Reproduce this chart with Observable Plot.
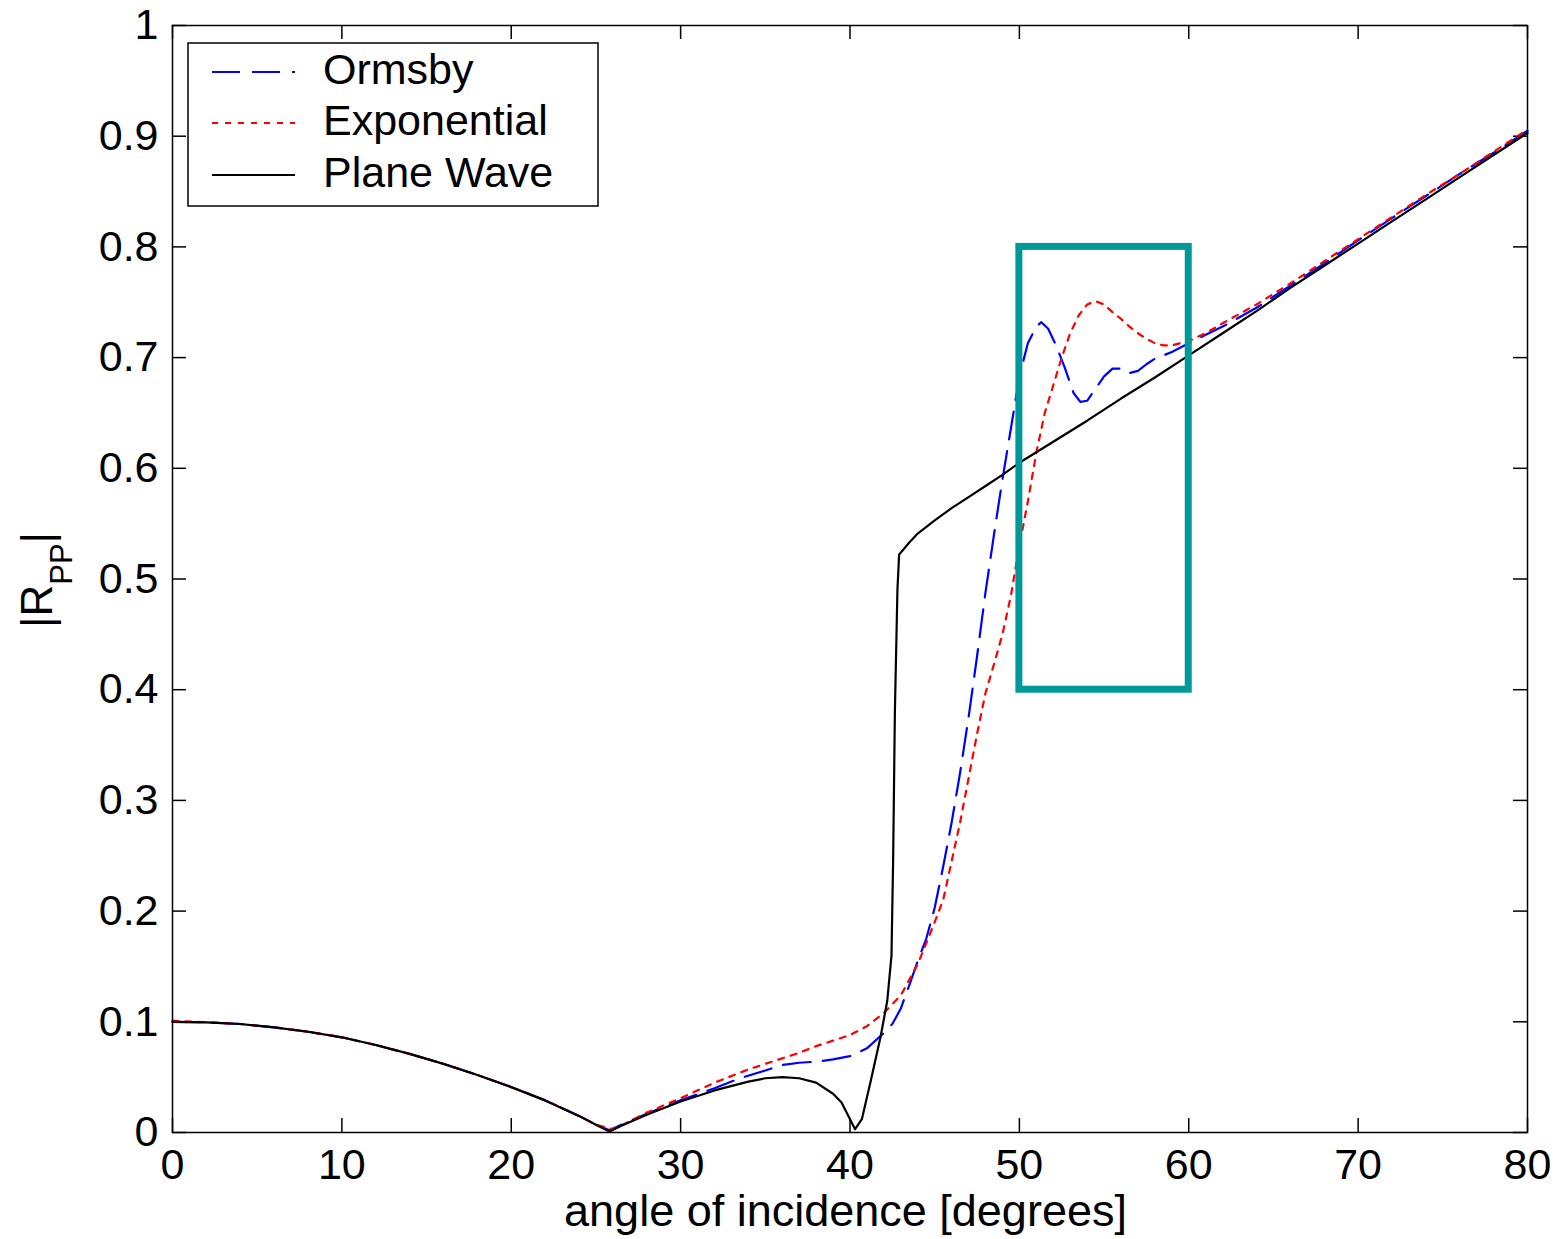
<!DOCTYPE html>
<html>
<head>
<meta charset="utf-8">
<script src="https://cdn.jsdelivr.net/npm/d3@7"></script>
<script src="https://cdn.jsdelivr.net/npm/@observablehq/plot@0.6"></script>
<style>
  html, body { margin: 0; padding: 0; background: #fff; }
  #chart { width: 1558px; height: 1239px; }
</style>
</head>
<body>
<div id="chart"></div>
<script>
// ---- Data ----
const xTicks = [0, 10, 20, 30, 40, 50, 60, 70, 80];
const yTicks = [0, 0.1, 0.2, 0.3, 0.4, 0.5, 0.6, 0.7, 0.8, 0.9, 1];
const yTickLabels = ["0", "0.1", "0.2", "0.3", "0.4", "0.5", "0.6", "0.7", "0.8", "0.9", "1"];

const seriesNames = ["Ormsby", "Exponential", "Plane Wave"];
const seriesColors = ["#0000ff", "#ff0000", "#000000"];
const seriesDash = ["28,12", "6,7", null];

// Plane Wave (black)
const planeAngle = [0,2,4,6,8,10,12,14,16,18,20,22,24,25,25.8,26.5,28,30,32,34,35,36,37,38,39,39.5,40,40.3,40.7,41.2,41.8,42.2,42.45,42.55,42.65,42.8,42.9,43.5,44,45,46,47,48,49,50,52,54,56,58,60,62,64,66,68,70,72,74,76,78,80];
const planeR = [0.100,0.0995,0.098,0.095,0.091,0.086,0.079,0.071,0.062,0.052,0.041,0.029,0.015,0.007,0.001,0.006,0.016,0.028,0.038,0.046,0.049,0.050,0.049,0.045,0.035,0.027,0.012,0.003,0.012,0.045,0.086,0.119,0.16,0.25,0.38,0.49,0.522,0.533,0.541,0.553,0.564,0.574,0.584,0.594,0.605,0.624,0.643,0.663,0.682,0.702,0.722,0.742,0.763,0.783,0.803,0.823,0.843,0.863,0.883,0.903];

// Ormsby (blue dashed)
const ormsbyAngle = [0,2,4,6,8,10,12,14,16,18,20,22,24,25,25.8,26.5,28,30,32,33.5,35,36,37,38,39,40,41,42,42.5,43,43.5,44,44.5,45,45.5,46,46.5,47,47.5,48,48.5,49,49.5,50,50.5,51,51.3,51.7,52.2,52.7,53.2,53.6,54,54.5,55,55.5,56,56.5,57,57.5,58,58.5,59,60,62,64,66,68,70,72,74,76,78,80];
const ormsbyR = [0.100,0.0995,0.098,0.095,0.091,0.086,0.079,0.071,0.062,0.052,0.041,0.029,0.015,0.007,0.002,0.007,0.017,0.029,0.040,0.049,0.056,0.061,0.063,0.064,0.066,0.069,0.076,0.090,0.098,0.112,0.133,0.155,0.175,0.203,0.24,0.28,0.325,0.375,0.43,0.488,0.54,0.59,0.636,0.683,0.713,0.728,0.732,0.726,0.71,0.69,0.668,0.66,0.661,0.672,0.683,0.69,0.69,0.686,0.688,0.694,0.699,0.702,0.705,0.713,0.728,0.745,0.765,0.785,0.806,0.826,0.846,0.866,0.885,0.905];

// Exponential (red dotted)
const expAngle = [0,2,4,6,8,10,12,14,16,18,20,22,24,25,26,27,28,30,32,34,35,36,37,38,39,40,41,42,43,44,45,45.5,46,46.5,47,47.5,48,48.5,49,49.5,50,50.5,51,51.5,52,52.5,53,53.5,54,54.5,55,55.5,56,56.5,57,57.5,58,58.5,59,59.5,60,61,62,64,66,68,70,72,74,76,78,80];
const expR = [0.101,0.0995,0.098,0.095,0.091,0.086,0.079,0.071,0.062,0.052,0.041,0.029,0.015,0.007,0.003,0.010,0.018,0.031,0.045,0.057,0.062,0.067,0.072,0.078,0.083,0.088,0.096,0.108,0.124,0.152,0.19,0.21,0.245,0.28,0.32,0.36,0.397,0.423,0.45,0.485,0.53,0.57,0.614,0.65,0.675,0.70,0.722,0.738,0.748,0.751,0.748,0.741,0.735,0.728,0.722,0.717,0.713,0.711,0.711,0.713,0.715,0.722,0.731,0.748,0.767,0.787,0.807,0.827,0.847,0.866,0.886,0.906];

// Highlight box annotation (data coordinates)
const highlight = [{x1: 50, x2: 60, y1: 0.4, y2: 0.8}];

// ---- Build tables ----
const ormsby = ormsbyAngle.map((a, i) => ({angle: a, r: ormsbyR[i]}));
const expo = expAngle.map((a, i) => ({angle: a, r: expR[i]}));
const plane = planeAngle.map((a, i) => ({angle: a, r: planeR[i]}));
const seriesData = [ormsby, expo, plane];

const W = 1558, H = 1239;
const mL = 172, mR = 31, mT = 25, mB = 107;
const innerW = W - mL - mR, innerH = H - mT - mB;
const tickLen = 14;
const font = "'Liberation Sans', Arial, Helvetica, sans-serif";

const lineMarks = seriesData.map((d, i) => Plot.line(d, {
  x: "angle", y: "r",
  stroke: seriesColors[i],
  strokeWidth: 2.2,
  strokeDasharray: seriesDash[i] || undefined
}));

const chart = Plot.plot({
  width: W, height: H,
  marginLeft: mL, marginRight: mR, marginTop: mT, marginBottom: mB,
  style: {fontFamily: font, fontSize: "43px", background: "#fff", color: "#000"},
  x: {domain: [0, 80]},
  y: {domain: [0, 1]},
  marks: [
    Plot.axisX({ticks: xTicks, tickSize: 0, tickPadding: 16, fontSize: 43, label: null, tickFormat: d => String(d)}),
    Plot.axisY({ticks: yTicks, tickSize: 0, tickPadding: 14, fontSize: 43, label: null, tickFormat: d => yTickLabels[yTicks.indexOf(d)]}),
    Plot.tickX(xTicks, {x: d => d, stroke: "#000", strokeWidth: 1.5, insetTop: innerH - tickLen}),
    Plot.tickX(xTicks, {x: d => d, stroke: "#000", strokeWidth: 1.5, insetBottom: innerH - tickLen}),
    Plot.tickY(yTicks, {y: d => d, stroke: "#000", strokeWidth: 1.5, insetRight: innerW - tickLen}),
    Plot.tickY(yTicks, {y: d => d, stroke: "#000", strokeWidth: 1.5, insetLeft: innerW - tickLen}),
    ...lineMarks,
    Plot.rect(highlight, {x1: "x1", x2: "x2", y1: "y1", y2: "y2", fill: "none", stroke: "#009999", strokeWidth: 7}),
    Plot.frame({stroke: "#000", strokeWidth: 1.5})
  ]
});

const svg = d3.select(chart);

// x-axis title
svg.append("text")
  .attr("x", mL + innerW / 2 - 4)
  .attr("y", 1226)
  .attr("text-anchor", "middle")
  .attr("font-family", font)
  .attr("font-size", 45)
  .attr("fill", "#000")
  .text("angle of incidence [degrees]");

// y-axis title |R_PP|
const yl = svg.append("text")
  .attr("transform", "translate(52,628) rotate(-90)")
  .attr("text-anchor", "start")
  .attr("font-family", font)
  .attr("font-size", 44)
  .attr("fill", "#000");
yl.append("tspan").text("|R");
yl.append("tspan").attr("font-size", 31).attr("dy", 20).text("PP");
yl.append("tspan").attr("dy", -20).text("|");

// Legend box
const lg = svg.append("g").attr("text-anchor", "start");
lg.append("rect")
  .attr("x", 188).attr("y", 43).attr("width", 410).attr("height", 163)
  .attr("fill", "#fff").attr("stroke", "#000").attr("stroke-width", 1.5);
const rowY = [72, 123, 175];
seriesNames.forEach((name, i) => {
  const l = lg.append("line")
    .attr("x1", 212).attr("x2", 295)
    .attr("y1", rowY[i]).attr("y2", rowY[i])
    .attr("stroke", seriesColors[i]).attr("stroke-width", 2);
  if (seriesDash[i]) l.attr("stroke-dasharray", seriesDash[i]);
  lg.append("text")
    .attr("x", 323).attr("y", rowY[i] + 12)
    .attr("text-anchor", "start")
    .attr("font-family", font).attr("font-size", 43).attr("fill", "#000")
    .text(name);
});

document.getElementById("chart").appendChild(chart);
</script>
</body>
</html>
